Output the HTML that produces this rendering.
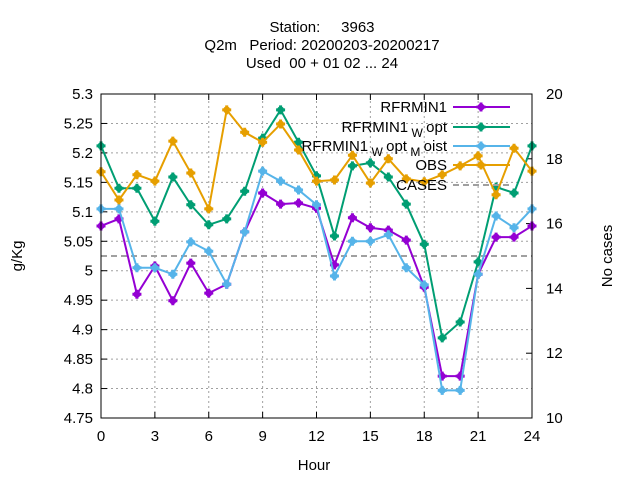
<!DOCTYPE html>
<html><head><meta charset="utf-8"><style>
body{margin:0;background:#fff}
svg{font-family:"Liberation Sans","DejaVu Sans",sans-serif;font-size:15px}
</style></head><body>
<svg id="c" width="640" height="480">
<text x="322" y="32" text-anchor="middle" xml:space="preserve">Station:     3963</text>
<text x="322" y="50" text-anchor="middle" xml:space="preserve">Q2m   Period: 20200203-20200217</text>
<text x="322" y="68" text-anchor="middle" xml:space="preserve">Used  00 + 01 02 ... 24</text>
<text transform="translate(22,256) rotate(-90)" text-anchor="middle">g/Kg</text>
<text transform="translate(612,256) rotate(-90)" text-anchor="middle">No cases</text>
<text x="314" y="470" text-anchor="middle">Hour</text>
<g id="grid"></g><g id="ticks"></g><g id="series"></g>
<rect x="101" y="94" width="431" height="324" fill="none" stroke="#000" stroke-width="1"/>
<g id="legend"></g>
</svg>
<script>
const hours=[0,1,2,3,4,5,6,7,8,9,10,11,12,13,14,15,16,17,18,19,20,21,22,23,24];
const rfrmin1=[5.076,5.088,4.96,5.008,4.949,5.013,4.962,4.977,5.066,5.132,5.113,5.115,5.106,5.01,5.09,5.073,5.069,5.052,4.972,4.821,4.821,4.994,5.057,5.057,5.076];
const rfrmin1Wopt=[5.212,5.14,5.14,5.084,5.159,5.112,5.078,5.088,5.135,5.225,5.273,5.218,5.161,5.059,5.178,5.183,5.159,5.113,5.045,4.886,4.913,5.015,5.142,5.132,5.212];
const rfrmin1WoptMoist=[5.105,5.105,5.005,5.005,4.994,5.049,5.033,4.977,5.066,5.169,5.152,5.137,5.112,4.991,5.05,5.05,5.061,5.005,4.976,4.797,4.797,4.994,5.093,5.073,5.105];
const obs=[5.168,5.12,5.163,5.152,5.22,5.166,5.105,5.273,5.235,5.218,5.249,5.205,5.152,5.154,5.196,5.149,5.19,5.156,5.151,5.163,5.178,5.195,5.129,5.208,5.169];
const cases=[15,15,15,15,15,15,15,15,15,15,15,15,15,15,15,15,15,15,15,15,15,15,15,15,15];
const yTicks=[4.75,4.8,4.85,4.9,4.95,5,5.05,5.1,5.15,5.2,5.25,5.3];
const y2Ticks=[10,12,14,16,18,20];
const xTicks=[0,3,6,9,12,15,18,21,24];
const X0=101,X1=532,Y0=418,Y1=94;
const xs=h=>X0+(h-0)/24*(X1-X0);
const ys=v=>Y0-(v-4.75)/0.55*(Y0-Y1);
const y2s=v=>Y0-(v-10)/10*(Y0-Y1);
const NS="http://www.w3.org/2000/svg";
function mk(t,a,p){const e=document.createElementNS(NS,t);for(const k in a)e.setAttribute(k,a[k]);p.appendChild(e);return e;}
const grid=document.getElementById('grid'),ticks=document.getElementById('ticks'),ser=document.getElementById('series'),leg=document.getElementById('legend');
yTicks.forEach(v=>{const y=ys(v);
 if(v>4.75&&v<5.3){const g=mk('line',{x1:X0,x2:X1,y1:y,y2:y,stroke:'#a0a0a0','stroke-dasharray':'2,3'},grid);}
 mk('line',{x1:X0,x2:X0+6,y1:y,y2:y,stroke:'#000'},ticks);
 const t=mk('text',{x:X0-8,y:y+5,'text-anchor':'end'},ticks);t.textContent=String(v);
 });
y2Ticks.forEach(v=>{const y=y2s(v);
 mk('line',{x1:X1-6,x2:X1,y1:y,y2:y,stroke:'#000'},ticks);
 const t=mk('text',{x:X1+14,y:y+5},ticks);t.textContent=String(v);
 });
xTicks.forEach(v=>{const x=xs(v);
 if(v>0&&v<24){const g=mk('line',{x1:x,x2:x,y1:Y0,y2:Y1,stroke:'#a0a0a0','stroke-dasharray':'2,3'},grid);}
 mk('line',{x1:x,x2:x,y1:Y0,y2:Y0-6,stroke:'#000'},ticks);mk('line',{x1:x,x2:x,y1:Y1,y2:Y1+6,stroke:'#000'},ticks);
 const t=mk('text',{x:x,y:Y0+23,'text-anchor':'middle'},ticks);t.textContent=String(v);
 });
const cl=mk('polyline',{points:hours.map((h,i)=>xs(h)+','+y2s(cases[i])).join(' '),fill:'none',stroke:'#a0a0a0','stroke-width':2,'stroke-dasharray':'6,4'},ser);

function star(cx,cy,col,p){const r=4.5;mk('path',{d:`M${cx-r} ${cy}H${cx+r}M${cx} ${cy-r}V${cy+r}`,stroke:col,'stroke-width':3},p);mk('circle',{cx:cx,cy:cy,r:3.5,fill:col},p);}
const S=[['RFRMIN1',rfrmin1,'#9400d3','rfrmin1'],['RFRMIN1Wopt',rfrmin1Wopt,'#009e73','rfrmin1-w-opt'],['RFRMIN1WoptMoist',rfrmin1WoptMoist,'#56b4e9','rfrmin1-w-opt-m-oist'],['OBS',obs,'#e69f00','obs']];
[0,1,3,2].forEach(k=>{const [n,d,c,id]=S[k];const g=mk('g',{},ser);
 
 mk('polyline',{points:hours.map((h,i)=>xs(h)+','+ys(d[i])).join(' '),fill:'none',stroke:c,'stroke-width':2},g);
 hours.forEach((h,i)=>star(xs(h),ys(d[i]),c,g));});
const L=[['RFRMIN1',null,null],['RFRMIN1','W','opt'],['RFRMIN1','W','opt','M','oist'],['OBS'],['CASES']];
const ly=[107,127,146,165,185],lc=['#9400d3','#009e73','#56b4e9','#e69f00','#a0a0a0'],ln=['legend-rfrmin1','legend-rfrmin1-w-opt','legend-rfrmin1-w-opt-m-oist','legend-obs','legend-cases'];
const labels=['RFRMIN1','RFRMIN1<tspan dy="5" font-size="12"> W </tspan><tspan dy="-5">opt</tspan>','RFRMIN1<tspan dy="5" font-size="12"> W </tspan><tspan dy="-5">opt</tspan><tspan dy="5" font-size="12"> M </tspan><tspan dy="-5">oist</tspan>','OBS','CASES'];
labels.forEach((h,i)=>{const g=mk('g',{},leg);
 const t=mk('text',{x:447,y:ly[i]+5,'text-anchor':'end'},g);t.innerHTML=h;
 if(i<4){mk('line',{x1:453,x2:510,y1:ly[i],y2:ly[i],stroke:lc[i],'stroke-width':2},g);star(481,ly[i],lc[i],g);}
 else mk('line',{x1:453,x2:510,y1:ly[i],y2:ly[i],stroke:lc[i],'stroke-width':2,'stroke-dasharray':'6,4'},g);});
</script>
</body></html>
